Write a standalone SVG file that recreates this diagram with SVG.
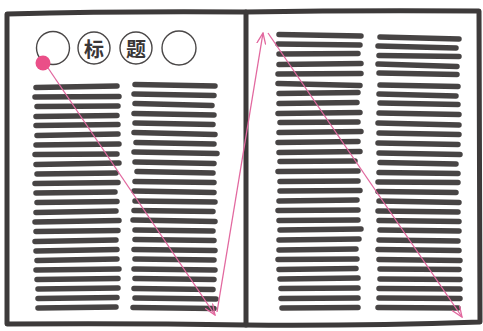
<svg xmlns="http://www.w3.org/2000/svg" width="483" height="331" viewBox="0 0 483 331">
<style>
.frame{fill:none;stroke:#3d3a3a;stroke-width:5;stroke-linejoin:round;stroke-linecap:round}
.txt{fill:none;stroke:#474444;stroke-width:5.5;stroke-linecap:round}
.ring{fill:#fff;stroke:#4a4747;stroke-width:1.4}
.title{font-family:"Noto Sans CJK SC","Noto Sans CJK JP",sans-serif;font-size:20px;font-weight:bold;fill:#3a3737}
.flow{fill:none;stroke:#e2689f;stroke-width:1.3}
</style>
<defs>
<marker id="vh" viewBox="0 0 12 10" refX="11" refY="5" markerWidth="12" markerHeight="10" markerUnits="userSpaceOnUse" orient="auto">
<path d="M0,0.5 L11,5 L0,9.5" fill="none" stroke="#e2689f" stroke-width="1.3"/>
</marker>
</defs>
<rect width="483" height="331" fill="#fff"/>
<g id="left-page">
<path class="frame" d="M7,14 Q120,11 246,12 L246,325 Q130,323 7,324 Z"/>
<circle class="ring" cx="53" cy="48" r="16.5"/>
<circle class="ring" cx="94" cy="48" r="16"/>
<circle class="ring" cx="136" cy="48" r="16"/>
<circle class="ring" cx="179" cy="48" r="17"/>
<text class="title" x="94" y="48" text-anchor="middle" dominant-baseline="central">标</text>
<text class="title" x="136" y="48" text-anchor="middle" dominant-baseline="central">题</text>
<path class="txt" d="M36,87.5 L117,86 M35,97 L119,96.5 M37,106.5 L118,106 M36,116.5 L117,115.5 M36,125.5 L118,124.5 M37,135.5 L118,134 M36,145 L119,144 M35,154.5 L117,154 M36,164.5 L119,163 M37,174 L116,173 M35,183.5 L118,182.5 M36,193 L115,192 M37,202.5 L117,201.5 M36,212.5 L116,211 M35,222 L119,220.5 M36,231.5 L118,230.5 M35,241.5 L116,240 M36,251 L117,249.5 M37,260.5 L117,259 M36,270 L119,269 M37,279.5 L118,278.5 M38,289 L118,288 M38,298.5 L117,297.5 M38,308 L116,307"/>
<path class="txt" d="M135,84.5 L215,86 M134,94 L214,95.5 M135,103.5 L212,105.5 M134,113.5 L214,115 M135,123 L213,124.5 M134,132.5 L215,134.5 M136,142.5 L214,144 M134,152 L217,153.5 M135,162 L214,163.5 M137,171.5 L213,173 M135,181.5 L214,182.5 M134,191 L214,192.5 M135,201 L215,202 M134,210.5 L213,211.5 M133,220 L215,221.5 M135,230 L213,231 M135,239.5 L214,240.5 M134,249.5 L215,250.5 M135,259 L214,260 M134,269 L215,270 M135,278.5 L214,279.5 M134,288.5 L213,289.5 M135,298 L216,299 M133,307.5 L214,308.5"/>
</g>
<g id="right-page">
<path class="frame" d="M246,12 Q360,10 479,11 L480,322 Q360,326 246,325"/>
<path class="txt" d="M279,34.5 L361,36 M278,44 L360,45 M279,54 L358,53.5 M279,64.5 L361,63.5 M278,74 L361,73.5 M278,83.5 L360,85.5 M279,93.5 L358,92.5 M279,103.5 L357,102.5 M278,113.5 L360,112.5 M280,122.5 L358,122 M279,132.5 L361,131.5 M278,142.5 L358,141.5 M279,152.5 L360,151.5 M280,161.5 L355,161 M278,171.5 L358,171 M280,181.5 L358,181 M280,191 L360,190.5 M279,201 L357,200 M278,210.5 L358,210 M279,220.5 L358,220 M280,230 L361,229 M279,240 L359,239 M279,250 L356,249 M278,259.5 L357,259 M279,269.5 L356,268.5 M280,279 L358,278 M281,288.5 L358,288 M281,298.5 L358,298 M282,308 L358,307.5"/>
<path class="txt" d="M380,37 L459,39 M378,46 L456,48 M379,55.5 L459,56.5 M378,64 L457,66.5 M379,73 L457,74.5 M380,85 L458,86.5 M379,94 L456,96 M380,103 L458,104.5 M379,113 L459,114.5 M378,123 L459,125 M379,133 L459,134.5 M378,143 L458,144.5 M379,153 L460,154.5 M380,162.5 L456,164 M379,172.5 L458,173.5 M378,182 L458,182.5 M378,191.5 L456,192.5 M379,201 L459,202.5 M378,211 L458,212 M379,220.5 L459,221.5 M380,230 L459,231 M379,240 L458,241 M378,249.5 L459,250.5 M379,259.5 L460,260.5 M380,269 L459,269.5 M380,279 L460,279.5 M379,288.5 L460,289 M379,298 L460,298.5 M378,307.5 L458,308"/>
</g>
<g id="connectors">
<path class="flow" d="M44,62 L215,315" marker-end="url(#vh)"/>
<path class="flow" d="M217,312 L263,33" marker-end="url(#vh)"/>
<path class="flow" d="M268,33 L462,317" marker-end="url(#vh)"/>
</g>
<circle id="start-dot" cx="43" cy="63" r="7.5" fill="#ea4f88"/>
</svg>
